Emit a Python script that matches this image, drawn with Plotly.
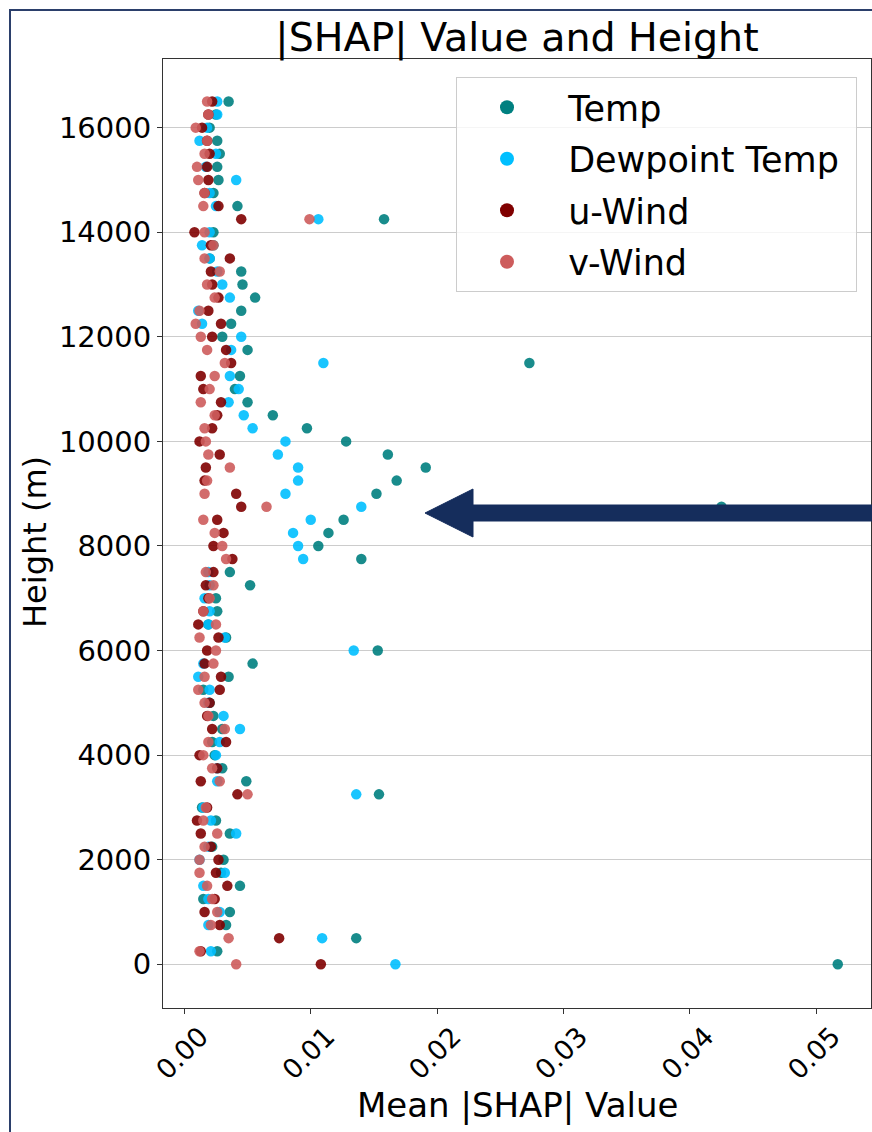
import plotly.graph_objects as go

# Height levels (m)
heights = [0, 250, 500, 750, 1000, 1250, 1500, 1750, 2000, 2250, 2500, 2750,
           3000, 3250, 3500, 3750, 4000, 4250, 4500, 4750, 5000, 5250, 5500, 5750,
           6000, 6250, 6500, 6750, 7000, 7250, 7500, 7750, 8000, 8250, 8500, 8750,
           9000, 9250, 9500, 9750, 10000, 10250, 10500, 10750, 11000, 11250, 11500, 11750,
           12000, 12250, 12500, 12750, 13000, 13250, 13500, 13750, 14000, 14250, 14500, 14750,
           15000, 15250, 15500, 15750, 16000, 16250, 16500]

# Mean |SHAP| value per height level, one list per feature
temp = [0.0517, 0.0026, 0.0136, 0.0033, 0.0036, 0.0015, 0.0044, 0.0029, 0.0031, 0.0022, 0.0036, 0.0025,
        0.0014, 0.0154, 0.0049, 0.0030, 0.0024, 0.0022, 0.0030, 0.0023, 0.0020, 0.0015, 0.0035, 0.0054,
        0.0153, 0.0033, 0.0019, 0.0026, 0.0025, 0.0052, 0.0036, 0.0140, 0.0106, 0.0114, 0.0126, 0.0425,
        0.0152, 0.0168, 0.0191, 0.0161, 0.0128, 0.0097, 0.0070, 0.0050, 0.0040, 0.0044, 0.0273, 0.0050,
        0.0030, 0.0037, 0.0045, 0.0056, 0.0046, 0.0045, 0.0020, 0.0023, 0.0023, 0.0158, 0.0042, 0.0023,
        0.0027, 0.0026, 0.0028, 0.0026, 0.0020, 0.0025, 0.0035]

dewpoint = [0.0167, 0.0021, 0.0109, 0.0019, 0.0028, 0.0019, 0.0015, 0.0032, 0.0012, 0.0019, 0.0041, 0.0021,
            0.0015, 0.0136, 0.0026, 0.0026, 0.0025, 0.0028, 0.0044, 0.0031, 0.0019, 0.0020, 0.0011, 0.0015,
            0.0134, 0.0032, 0.0019, 0.0020, 0.0016, 0.0020, 0.0019, 0.0094, 0.0090, 0.0086, 0.0100, 0.0140,
            0.0080, 0.0090, 0.0090, 0.0074, 0.0080, 0.0054, 0.0047, 0.0035, 0.0043, 0.0036, 0.0110, 0.0037,
            0.0045, 0.0014, 0.0011, 0.0036, 0.0030, 0.0026, 0.0020, 0.0014, 0.0020, 0.0106, 0.0025, 0.0020,
            0.0041, 0.0017, 0.0025, 0.0012, 0.0018, 0.0026, 0.0026]

u_wind = [0.0108, 0.0013, 0.0075, 0.0028, 0.0016, 0.0024, 0.0034, 0.0025, 0.0027, 0.0021, 0.0013, 0.0010,
          0.0018, 0.0042, 0.0013, 0.0026, 0.0012, 0.0033, 0.0022, 0.0018, 0.0020, 0.0028, 0.0029, 0.0016,
          0.0018, 0.0027, 0.0011, 0.0015, 0.0019, 0.0017, 0.0023, 0.0038, 0.0023, 0.0031, 0.0026, 0.0045,
          0.0041, 0.0016, 0.0017, 0.0028, 0.0012, 0.0022, 0.0026, 0.0029, 0.0015, 0.0013, 0.0037, 0.0033,
          0.0022, 0.0029, 0.0019, 0.0027, 0.0022, 0.0021, 0.0036, 0.0021, 0.0008, 0.0045, 0.0027, 0.0016,
          0.0019, 0.0018, 0.0020, 0.0018, 0.0014, 0.0019, 0.0022]

v_wind = [0.0041, 0.0012, 0.0035, 0.0021, 0.0026, 0.0022, 0.0018, 0.0012, 0.0012, 0.0016, 0.0026, 0.0015,
          0.0017, 0.0050, 0.0028, 0.0022, 0.0015, 0.0019, 0.0032, 0.0019, 0.0016, 0.0011, 0.0016, 0.0023,
          0.0025, 0.0012, 0.0025, 0.0015, 0.0020, 0.0023, 0.0017, 0.0033, 0.0030, 0.0024, 0.0015, 0.0065,
          0.0016, 0.0018, 0.0036, 0.0019, 0.0017, 0.0016, 0.0024, 0.0013, 0.0020, 0.0024, 0.0032, 0.0018,
          0.0013, 0.0009, 0.0012, 0.0024, 0.0018, 0.0028, 0.0016, 0.0023, 0.0016, 0.0099, 0.0015, 0.0016,
          0.0011, 0.0010, 0.0016, 0.0018, 0.0009, 0.0019, 0.0018]

series_names = ["Temp", "Dewpoint Temp", "u-Wind", "v-Wind"]
series_values = [temp, dewpoint, u_wind, v_wind]
series_colors = ["#008080", "#00BFFF", "#800000", "#CD5C5C"]

x_ticks = [0.00, 0.01, 0.02, 0.03, 0.04, 0.05]
x_tick_labels = ["0.00", "0.01", "0.02", "0.03", "0.04", "0.05"]
y_ticks = [0, 2000, 4000, 6000, 8000, 10000, 12000, 14000, 16000]
y_tick_labels = ["0", "2000", "4000", "6000", "8000", "10000", "12000", "14000", "16000"]

FONT = "DejaVu Sans"
W, H = 872, 1132
L, R, T, B = 163, 871, 59, 1008  # plot area in pixels
NBSP = "\u00a0"


def px_x(p):
    return (p - L) / (R - L)


def px_y(p):
    return (B - p) / (B - T)


fig = go.Figure()

for name, vals, col in zip(series_names, series_values, series_colors):
    fig.add_trace(go.Scatter(
        x=vals, y=heights, mode="markers", name=name, showlegend=False,
        marker=dict(color=col, size=10.5, opacity=0.9, line=dict(width=0)),
    ))

# legend entries with larger symbols
for i, (name, col) in enumerate(zip(series_names, series_colors)):
    label = NBSP + name + (NBSP if name == "Dewpoint Temp" else "")
    fig.add_trace(go.Scatter(
        x=[None], y=[None], mode="markers", name=label, legendgroup=f"g{i}",
        marker=dict(color=col, size=14),
    ))

# big navy arrow pointing left
tip_x, tip_y = 425, 513
base_x, half_head, half_shaft = 473, 24, 8
arrow = (f"M {px_x(tip_x)},{px_y(tip_y)} "
         f"L {px_x(base_x)},{px_y(tip_y - half_head)} "
         f"L {px_x(base_x)},{px_y(tip_y - half_shaft)} "
         f"L {px_x(900)},{px_y(tip_y - half_shaft)} "
         f"L {px_x(900)},{px_y(tip_y + half_shaft)} "
         f"L {px_x(base_x)},{px_y(tip_y + half_shaft)} "
         f"L {px_x(base_x)},{px_y(tip_y + half_head)} Z")

shapes = [
    dict(type="path", xref="paper", yref="paper", path=arrow,
         fillcolor="#152D5C", line=dict(color="#152D5C", width=1), layer="above"),
    dict(type="rect", xref="paper", yref="paper",
         x0=px_x(10), x1=px_x(900), y0=px_y(1160), y1=px_y(10),
         line=dict(color="#2B3F6B", width=2), fillcolor="rgba(0,0,0,0)", layer="below"),
]

annotations = [
    dict(text="Mean |SHAP| Value", xref="paper", yref="paper", x=0.5, y=px_y(1105),
         xanchor="center", yanchor="middle", showarrow=False,
         font=dict(family=FONT, size=34, color="black")),
    dict(text="Height (m)", xref="paper", yref="paper", x=px_x(35), y=px_y(542),
         xanchor="center", yanchor="middle", showarrow=False, textangle=-90,
         font=dict(family=FONT, size=32, color="black")),
]

fig.update_layout(
    width=W, height=H,
    margin=dict(l=L, r=W - R, t=T, b=H - B, pad=0),
    paper_bgcolor="white", plot_bgcolor="white",
    font=dict(family=FONT, color="black"),
    title=dict(text="|SHAP| Value and Height", x=px_x(517), xref="paper", xanchor="center",
               y=1 - 37 / H, yref="container", yanchor="middle",
               font=dict(family=FONT, size=39.5, color="black")),
    xaxis=dict(range=[-0.00169, 0.05433], tickvals=x_ticks, ticktext=x_tick_labels,
               tickangle=-45, ticks="outside", ticklen=5, tickcolor="#333",
               showgrid=False, zeroline=False, showline=True, mirror=True,
               linecolor="#333", linewidth=1, tickfont=dict(size=27),
               ticklabelshift=16, ticklabelstandoff=-4),
    yaxis=dict(range=[-836, 17313], tickvals=y_ticks, ticktext=y_tick_labels,
               ticks="outside", ticklen=5,
               tickcolor="#333", showgrid=True, gridcolor="#cccccc", gridwidth=1.3,
               zeroline=False, showline=True, mirror=True, linecolor="#333", linewidth=1,
               tickfont=dict(size=29), ticklabelstandoff=0),
    legend=dict(x=px_x(456), y=px_y(77), xanchor="left", yanchor="top",
                bgcolor="rgba(255,255,255,0.8)", bordercolor="#cccccc", borderwidth=1,
                font=dict(family=FONT, size=35), itemwidth=90, tracegroupgap=3),
    shapes=shapes, annotations=annotations,
)

fig.write_html("out.html")
